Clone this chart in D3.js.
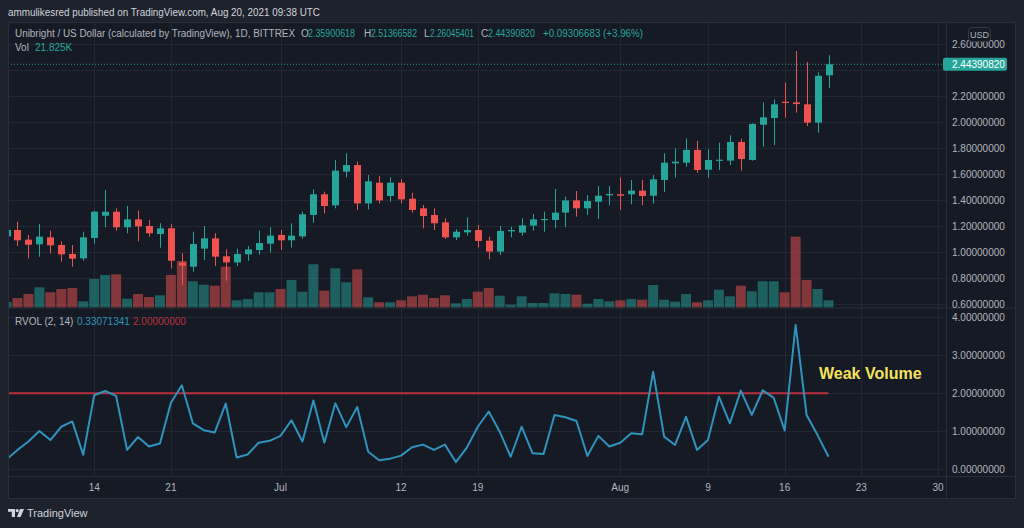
<!DOCTYPE html>
<html><head><meta charset="utf-8">
<script src="https://cdn.jsdelivr.net/npm/d3@7"></script>
<style>html,body{margin:0;padding:0;background:#1e222d;overflow:hidden}svg{display:block}</style>
</head><body><svg id="c" width="1024" height="528"></svg>
<script>
// ---------------- DATA ----------------
const firstDay = "2021-06-06";   // daily candles, Jun 6 .. Aug 20 2021
const lastDay  = "2021-08-20";
const opens  = [1.120,1.169,1.095,1.059,1.113,1.054,0.985,0.951,1.108,1.279,1.310,1.190,1.251,1.200,1.138,1.182,0.918,0.887,1.026,1.105,0.967,0.920,0.982,1.015,1.064,1.131,1.090,1.120,1.285,1.444,1.359,1.618,1.669,1.374,1.533,1.431,1.533,1.410,1.336,1.285,1.228,1.113,1.151,1.169,1.087,1.003,1.159,1.149,1.203,1.246,1.246,1.303,1.397,1.336,1.387,1.436,1.444,1.444,1.472,1.433,1.554,1.682,1.687,1.785,1.633,1.703,1.703,1.846,1.708,1.979,2.031,2.156,2.151,2.136,1.995,2.35900618];
const highs  = [1.172,1.233,1.131,1.215,1.164,1.082,1.054,1.156,1.318,1.477,1.336,1.354,1.318,1.246,1.221,1.215,0.990,1.156,1.200,1.144,1.020,1.026,1.046,1.164,1.190,1.169,1.220,1.310,1.482,1.464,1.708,1.759,1.695,1.592,1.585,1.574,1.559,1.456,1.361,1.336,1.259,1.174,1.267,1.208,1.118,1.200,1.195,1.259,1.292,1.310,1.485,1.426,1.469,1.438,1.508,1.508,1.574,1.554,1.554,1.592,1.759,1.797,1.874,1.855,1.790,1.841,1.897,1.872,1.990,2.151,2.174,2.303,2.546,2.462,2.382,2.51366582];
const lows   = [1.115,1.046,0.951,0.964,0.990,0.926,0.887,0.933,1.064,1.190,1.164,1.144,1.082,1.118,1.033,0.874,0.746,0.849,0.938,0.892,0.779,0.892,0.933,0.979,0.995,1.015,1.033,1.103,1.226,1.297,1.336,1.574,1.323,1.328,1.374,1.387,1.374,1.303,1.182,1.169,1.100,1.092,1.126,1.033,0.944,0.977,1.113,1.126,1.164,1.156,1.182,1.190,1.272,1.285,1.254,1.359,1.323,1.367,1.361,1.374,1.462,1.572,1.656,1.610,1.572,1.631,1.669,1.626,1.703,1.810,1.823,2.033,2.072,1.969,1.918,2.26045401];
const closes = [1.170,1.090,1.056,1.118,1.051,0.982,0.949,1.113,1.310,1.310,1.190,1.251,1.197,1.144,1.182,0.933,0.895,1.061,1.105,0.964,0.920,0.985,1.020,1.069,1.126,1.090,1.126,1.290,1.444,1.354,1.626,1.669,1.374,1.544,1.397,1.533,1.405,1.323,1.277,1.221,1.113,1.156,1.169,1.085,1.003,1.162,1.169,1.205,1.251,1.254,1.303,1.397,1.336,1.392,1.433,1.446,1.433,1.472,1.431,1.559,1.687,1.695,1.785,1.631,1.708,1.710,1.846,1.715,1.985,2.036,2.136,2.146,2.138,1.995,2.356,2.44390820];
const volumesK = [16.7,28.8,40.9,61.2,46.1,56.1,59.1,18.8,86.4,98.5,100.6,26.7,40.9,31.8,37.0,98.5,140.9,79.4,69.1,66.1,123.6,21.8,25.8,46.1,46.1,56.1,83.3,47.9,130.9,50.9,118.8,76.4,115.7,30.9,15.8,15.8,21.8,33.9,38.8,28.8,37.0,12.7,25.8,47.9,59.1,35.8,8.5,33.9,13.6,13.6,43.0,40.9,38.8,11.5,25.8,18.8,21.8,25.8,23.6,68.2,23.6,17.6,40.9,15.8,21.8,53.9,33.9,66.1,49.1,79.4,79.4,46.1,214.5,83.3,56.1,21.825];
const rvolValues = [0.26,0.51,0.73,1.01,0.77,1.12,1.26,0.38,1.95,2.06,1.93,0.51,0.85,0.60,0.68,1.75,2.21,1.21,1.03,0.97,1.73,0.31,0.39,0.70,0.75,0.88,1.29,0.73,1.81,0.70,1.74,1.11,1.64,0.46,0.24,0.28,0.36,0.58,0.65,0.51,0.65,0.19,0.57,1.12,1.52,0.99,0.33,1.12,0.42,0.40,1.43,1.37,1.27,0.35,0.88,0.60,0.70,0.95,0.92,2.57,0.86,0.64,1.38,0.51,0.77,1.91,1.21,2.07,1.43,2.08,1.88,1.02,3.80,1.43,0.90,0.33071341];
const rvolLevel = 2.0;
const priceTicks = [0.6,0.8,1.0,1.2,1.4,1.6,1.8,2.0,2.2,2.4,2.6];
const rvolTicks = [0,1,2,3,4];
const timeTickDates  = ["2021-06-14","2021-06-21","2021-07-01","2021-07-12","2021-07-19","2021-08-01","2021-08-09","2021-08-16","2021-08-23","2021-08-30"];
const timeTickLabels = ["14","21","Jul","12","19","Aug","9","16","23","30"];
const lastPrice = 2.44390820;

// ---------------- LAYOUT ----------------
const FONT = "'Liberation Sans', Arial, sans-serif";
const C = {bg:"#1e222d", pane:"#161a25", grid:"#232733", border:"#2a2e39", text:"#b2b5be",
           up:"#26a69a", down:"#ef5350", rvol:"#2f93bd", level:"#b8303c", note:"#f5e35c"};
const L = {left:8, right:1016, axisX:946, top:22, priceBottom:307.5, rvolBottom:476, bottom:499};

const parse = d3.timeParse("%Y-%m-%d");
const days = d3.timeDay.range(parse(firstDay), d3.timeDay.offset(parse(lastDay), 1));
const candles = days.map((d,i)=>({date:d,o:opens[i],h:highs[i],l:lows[i],c:closes[i],v:volumesK[i],r:rvolValues[i]}));

const x = d3.scaleTime().domain([parse("2021-06-14"), parse("2021-08-30")]).range([94.2, 938.1]);
const y = d3.scaleLinear().domain([0.6, 2.6]).range([304, 44]);
const yVol = d3.scaleLinear().domain([0, 225]).range([307.5, 233.2]);
const yR = d3.scaleLinear().domain([0, 4]).range([469.3, 317.3]);

const svg = d3.select("#c");
svg.append("rect").attr("width",1024).attr("height",528).attr("fill",C.bg);
svg.append("rect").attr("x",L.left+0.5).attr("y",L.top+0.5).attr("width",L.right-L.left-1).attr("height",L.bottom-L.top-1)
   .attr("fill",C.pane).attr("stroke",C.border);

const defs = svg.append("defs");
defs.append("clipPath").attr("id","cp").append("rect").attr("x",L.left+1).attr("y",L.top+1).attr("width",L.axisX-L.left-1).attr("height",L.priceBottom-L.top-1);
defs.append("clipPath").attr("id","cr").append("rect").attr("x",L.left+1).attr("y",L.priceBottom+1).attr("width",L.axisX-L.left-1).attr("height",L.rvolBottom-L.priceBottom-1);

// grid
const grid = svg.append("g").attr("stroke",C.grid).attr("stroke-width",1);
timeTickDates.forEach(d=>{ const xx=Math.round(x(parse(d)))+0.5;
  grid.append("line").attr("x1",xx).attr("x2",xx).attr("y1",L.top+1).attr("y2",L.rvolBottom); });
priceTicks.forEach(p=>{ const yy=Math.round(y(p))+0.5;
  grid.append("line").attr("x1",L.left+1).attr("x2",L.axisX).attr("y1",yy).attr("y2",yy); });
rvolTicks.forEach(p=>{ const yy=Math.round(yR(p))+0.5;
  grid.append("line").attr("x1",L.left+1).attr("x2",L.axisX).attr("y1",yy).attr("y2",yy); });

// separators
const sep = svg.append("g").attr("stroke",C.border).attr("stroke-width",1);
sep.append("line").attr("x1",L.left).attr("x2",L.right).attr("y1",L.priceBottom+0.5).attr("y2",L.priceBottom+0.5);
sep.append("line").attr("x1",L.left).attr("x2",L.right).attr("y1",L.rvolBottom+0.5).attr("y2",L.rvolBottom+0.5);
sep.append("line").attr("x1",L.axisX+0.5).attr("x2",L.axisX+0.5).attr("y1",L.top).attr("y2",L.bottom);

// price pane
const pp = svg.append("g").attr("clip-path","url(#cp)");
pp.selectAll("rect.vol").data(candles).join("rect").attr("class","vol")
  .attr("x",d=>x(d.date)-5).attr("width",10)
  .attr("y",d=>yVol(d.v)).attr("height",d=>yVol(0)-yVol(d.v))
  .attr("fill",d=>d.c>=d.o?C.up:C.down).attr("fill-opacity",0.5);
pp.append("line").attr("x1",L.left).attr("x2",L.axisX).attr("y1",y(lastPrice)).attr("y2",y(lastPrice))
  .attr("stroke",C.up).attr("stroke-dasharray","1,2").attr("stroke-opacity",0.9);
pp.selectAll("line.wick").data(candles).join("line").attr("class","wick")
  .attr("x1",d=>Math.round(x(d.date))+0.5).attr("x2",d=>Math.round(x(d.date))+0.5)
  .attr("y1",d=>y(d.h)).attr("y2",d=>y(d.l))
  .attr("stroke",d=>d.c>=d.o?C.up:C.down).attr("stroke-width",1);
pp.selectAll("rect.body").data(candles).join("rect").attr("class","body")
  .attr("x",d=>Math.round(x(d.date))-3).attr("width",7)
  .attr("y",d=>y(Math.max(d.o,d.c)))
  .attr("height",d=>Math.max(1.2, Math.abs(y(d.o)-y(d.c))))
  .attr("fill",d=>d.c>=d.o?C.up:C.down);

// rvol pane
const rp = svg.append("g").attr("clip-path","url(#cr)");
rp.append("line").attr("x1",L.left).attr("x2",x(days[days.length-1])).attr("y1",yR(rvolLevel)).attr("y2",yR(rvolLevel))
  .attr("stroke",C.level).attr("stroke-width",2);
rp.append("path").datum(candles).attr("fill","none").attr("stroke",C.rvol).attr("stroke-width",2).attr("stroke-linejoin","round")
  .attr("d",d3.line().x(d=>x(d.date)).y(d=>yR(d.r)));
svg.append("text").attr("x",819).attr("y",379).attr("font-family",FONT).attr("font-weight","bold").attr("font-size",16)
  .attr("fill",C.note).text("Weak Volume");

// axes labels
const fmt = d3.format(".8f");
const ax = svg.append("g").attr("font-family",FONT).attr("font-size",10).attr("fill",C.text);
priceTicks.filter(p=>Math.abs(y(p)-y(lastPrice))>9).forEach(p=>ax.append("text").attr("x",952).attr("y",y(p)+3.6).text(fmt(p)));
rvolTicks.forEach(p=>ax.append("text").attr("x",952).attr("y",yR(p)+3.6).text(fmt(p)));
timeTickDates.forEach((d,i)=>ax.append("text").attr("x",x(parse(d))).attr("y",491).attr("text-anchor","middle").text(timeTickLabels[i]));

// USD badge
svg.append("rect").attr("x",968.5).attr("y",27.5).attr("width",22).attr("height",14).attr("rx",3)
  .attr("fill",C.pane).attr("stroke","#363a45");
svg.append("text").attr("x",979.5).attr("y",38).attr("text-anchor","middle").attr("font-family",FONT).attr("font-size",9).attr("fill",C.text).text("USD");

// last price label
svg.append("rect").attr("x",943).attr("y",y(lastPrice)-6.5).attr("width",64).attr("height",13).attr("rx",2).attr("fill",C.up);
svg.append("text").attr("x",952).attr("y",y(lastPrice)+3.6).attr("font-family",FONT).attr("font-size",10).attr("fill","#ffffff").text(fmt(lastPrice));

// header & legends
svg.append("text").attr("x",8).attr("y",16).attr("font-family",FONT).attr("font-size",10.5).attr("fill","#d1d4dc")
  .attr("textLength",312).attr("lengthAdjust","spacingAndGlyphs")
  .text("ammulikesred published on TradingView.com, Aug 20, 2021 09:38 UTC");
const lg = svg.append("g").attr("font-family",FONT).attr("font-size",10);
const t1 = (xx,yy,s,col,w)=>{ const t=lg.append("text").attr("x",xx).attr("y",yy).attr("fill",col).text(s);
  if(w) t.attr("textLength",w).attr("lengthAdjust","spacingAndGlyphs"); return t; };
const last = candles[candles.length-1];
t1(15,37,"Unibright / US Dollar (calculated by TradingView), 1D, BITTREX",C.text,280);
t1(301,37,"O",C.text); t1(308,37,fmt(last.o),C.up,47);
t1(364,37,"H",C.text); t1(371,37,fmt(last.h),C.up,46);
t1(424,37,"L",C.text); t1(430,37,fmt(last.l),C.up,44);
t1(481,37,"C",C.text); t1(488,37,fmt(last.c),C.up,47);
t1(543,37,"+0.09306683 (+3.96%)",C.up,100);
t1(15,51,"Vol",C.text); t1(35,51,"21.825K",C.up);
t1(15,325,"RVOL (2, 14)",C.text);
t1(77,325,fmt(last.r),C.rvol);
t1(133,325,fmt(rvolLevel),C.level);

// TradingView logo
const logo = svg.append("g").attr("fill","#d1d4dc");
logo.append("path").attr("d","M8,509 h7 v8 h-3.2 v-5.2 h-3.8 z");
logo.append("circle").attr("cx",17.2).attr("cy",510.6).attr("r",1.6);
logo.append("path").attr("d","M20,509 h4 l-3.4,8 h-3.6 z");
svg.append("text").attr("x",27).attr("y",517).attr("font-family",FONT).attr("font-size",11).attr("fill","#d1d4dc").text("TradingView");
</script></body></html>
